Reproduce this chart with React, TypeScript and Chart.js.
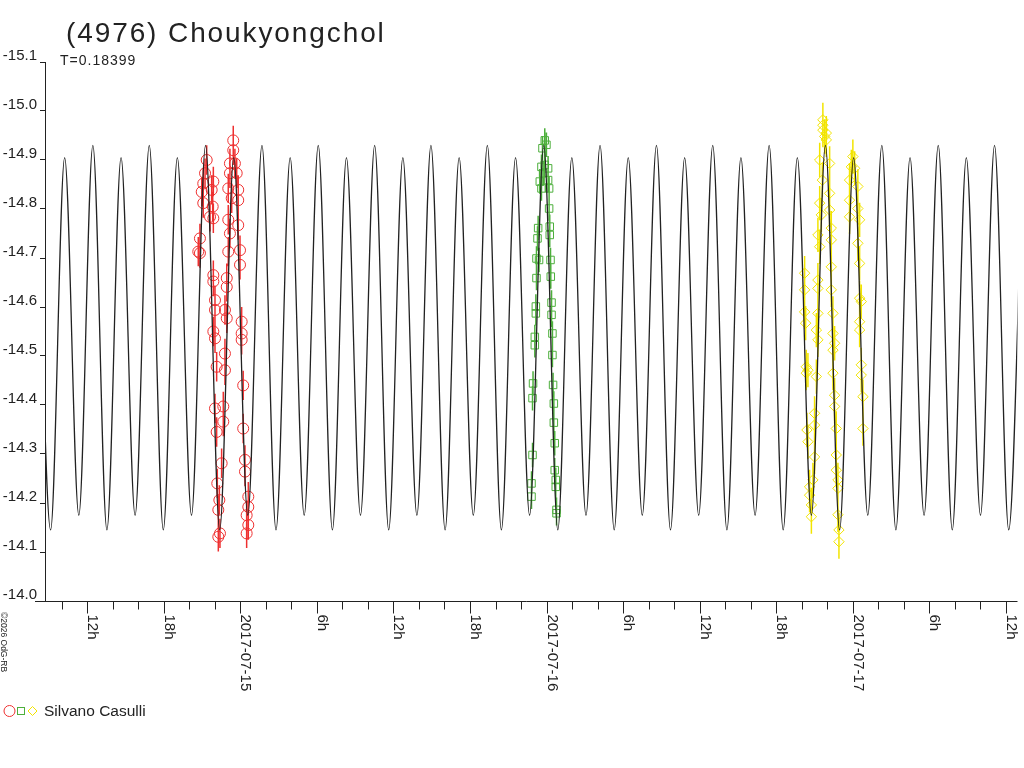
import { useEffect, useRef } from "react";
import { Chart, registerables } from "chart.js";

Chart.register(...registerables);

const FONT = '"Liberation Sans", Arial, sans-serif';
const INK = "#222222";

// hours relative to 2017-07-15 00:00, magnitudes (reduced)
// model lightcurve: successive maxima / minima
const curveHours = [
  -15.97, -14.86, -13.76, -12.65, -11.55, -10.45, -9.34, -8.24,
  -7.13, -6.03, -4.93, -3.82, -2.72, -1.61, -0.51, 0.59,
  1.7, 2.8, 3.91, 5.01, 6.11, 7.22, 8.32, 9.42,
  10.53, 11.63, 12.74, 13.84, 14.94, 16.05, 17.15, 18.26,
  19.36, 20.46, 21.57, 22.67, 23.78, 24.88, 25.98, 27.09,
  28.19, 29.3, 30.4, 31.5, 32.61, 33.71, 34.82, 35.92,
  37.02, 38.13, 39.23, 40.34, 41.44, 42.54, 43.65, 44.75,
  45.85, 46.96, 48.06, 49.17, 50.27, 51.37, 52.48, 53.58,
  54.69, 55.79, 56.89, 58.0, 59.1, 60.21, 61.31,
];
const curveMags = [
  -14.93, -14.145, -14.905, -14.175, -14.93, -14.145, -14.905, -14.175,
  -14.93, -14.145, -14.905, -14.175, -14.93, -14.145, -14.905, -14.175,
  -14.93, -14.145, -14.905, -14.175, -14.93, -14.145, -14.905, -14.175,
  -14.93, -14.145, -14.905, -14.175, -14.93, -14.145, -14.905, -14.175,
  -14.93, -14.145, -14.905, -14.175, -14.93, -14.145, -14.905, -14.175,
  -14.93, -14.145, -14.905, -14.175, -14.93, -14.145, -14.905, -14.175,
  -14.93, -14.145, -14.905, -14.175, -14.93, -14.145, -14.905, -14.175,
  -14.93, -14.145, -14.905, -14.175, -14.93, -14.145, -14.905, -14.175,
  -14.93, -14.145, -14.905, -14.175, -14.93, -14.145, -14.905,
];

// session 1 (red circles)
const redHours = [
  -2.63, -2.76, -2.9, -3.02, -2.11, -2.24, -2.9, -2.16, -2.37, -2.11, -3.16, -3.29, -3.16,
  -2.11, -2.11, -1.98, -1.98, -2.11, -1.98, -1.85, -1.98, -1.85, -1.46, -1.8, -1.64, -1.72, -1.59, -1.72,
  -0.55, -0.55, -0.81, -0.42, -0.81, -0.28, -0.16, -0.94, -0.67, -0.16, -0.94, -0.81, -0.16, -0.94, -0.02, -0.02,
  -1.06, -1.06, -1.2, -1.06, 0.11, 0.11, 0.11, -1.2, -1.2, 0.23, -1.33, -1.33, 0.23, 0.37, 0.37, 0.63, 0.63, 0.5, 0.63, 0.5,
];
const redMags = [
  -14.9, -14.873, -14.852, -14.835, -14.856, -14.839, -14.812, -14.805, -14.784, -14.781, -14.74, -14.713, -14.71,
  -14.665, -14.652, -14.614, -14.594, -14.55, -14.536, -14.478, -14.393, -14.345, -14.281, -14.24, -14.206, -14.186, -14.138, -14.131,
  -14.94, -14.92, -14.893, -14.893, -14.873, -14.873, -14.839, -14.842, -14.822, -14.818, -14.778, -14.75, -14.767, -14.713, -14.716, -14.686,
  -14.659, -14.641, -14.594, -14.577, -14.57, -14.546, -14.533, -14.505, -14.471, -14.44, -14.397, -14.366, -14.352, -14.288, -14.264, -14.213, -14.192, -14.175, -14.155, -14.138,
];

// session 2 (green squares)
const greenHours = [
  23.86, 23.99, 23.68, 23.6, 23.86, 24.12, 23.73, 24.12, 23.47, 23.6, 24.2,
  23.34, 23.29, 23.21, 23.41, 23.21, 23.16, 23.16, 23.08, 23.08, 22.94, 22.9, 22.9, 22.82, 22.82,
  24.2, 24.25, 24.25, 24.31, 24.33, 24.39, 24.39, 24.46, 24.46, 24.51, 24.57, 24.57, 24.64, 24.64, 24.72, 24.72, 24.78, 24.78,
];
const greenMags = [
  -14.94, -14.931, -14.924, -14.886, -14.89, -14.883, -14.873, -14.859, -14.856, -14.842, -14.842,
  -14.761, -14.74, -14.699, -14.696, -14.659, -14.601, -14.587, -14.539, -14.522, -14.444, -14.414, -14.298, -14.24, -14.213,
  -14.801, -14.764, -14.747, -14.696, -14.662, -14.609, -14.584, -14.546, -14.502, -14.441, -14.403, -14.364, -14.322, -14.267, -14.247, -14.233, -14.186, -14.179,
];

// session 3 (yellow diamonds)
const yellowHours = [
  44.22, 44.22, 44.22, 44.3, 44.35, 44.48, 44.35, 44.4, 44.48, 44.61, 44.61, 44.75, 44.75,
  44.87, 45.0, 45.0, 45.0, 45.14, 45.26, 45.14, 45.26, 45.26, 45.26, 45.4, 45.26, 45.53, 45.4, 45.61, 45.4,
  45.65, 45.65, 45.79, 45.92, 45.92, 45.65,
  46.18, 46.18, 46.18, 46.31, 46.31, 46.31, 46.31, 46.44, 46.44, 46.57, 46.44, 46.44, 46.57, 46.57, 46.7, 46.7, 46.7, 46.83, 46.83, 46.83, 46.91, 46.91,
  48.0, 47.88, 48.14, 47.74, 48.39, 47.74, 48.39, 47.74, 48.53, 48.39, 48.53,
  48.53, 48.66, 48.53, 48.53, 48.66, 48.66, 48.79, 48.79,
];
const yellowMags = [
  -14.669, -14.635, -14.59, -14.567, -14.478, -14.471, -14.465, -14.349, -14.325, -14.233, -14.216, -14.196, -14.172,
  -14.247, -14.294, -14.359, -14.383, -14.458, -14.533, -14.553, -14.587, -14.638, -14.655, -14.723, -14.747, -14.788, -14.812, -14.859, -14.9,
  -14.982, -14.961, -14.948, -14.941, -14.955, -14.971,
  -14.893, -14.832, -14.798, -14.761, -14.737, -14.682, -14.635, -14.587, -14.546, -14.526, -14.512, -14.465, -14.42, -14.397, -14.352, -14.298, -14.267, -14.247, -14.23, -14.176, -14.145, -14.121,
  -14.907, -14.886, -14.883, -14.859, -14.846, -14.818, -14.801, -14.784, -14.778, -14.73, -14.689,
  -14.618, -14.611, -14.57, -14.553, -14.482, -14.461, -14.417, -14.352,
];

const redErr = 0.03;
const greenErr = 0.025;
const yellowErr = 0.035;

const xTickHours = [
  -14, -12, -10, -8, -6, -4, -2, 0, 2, 4, 6, 8, 10, 12, 14, 16, 18, 20, 22, 24,
  26, 28, 30, 32, 34, 36, 38, 40, 42, 44, 46, 48, 50, 52, 54, 56, 58, 60,
];
const xLabelHours = [-12, -6, 0, 6, 12, 18, 24, 30, 36, 42, 48, 54, 60];
const xLabels = [
  "12h", "18h", "2017-07-15", "6h", "12h", "18h", "2017-07-16",
  "6h", "12h", "18h", "2017-07-17", "6h", "12h",
];
const yTicks = [-15.1, -15.0, -14.9, -14.8, -14.7, -14.6, -14.5, -14.4, -14.3, -14.2, -14.1, -14.0];

const RED = "#ee3030";
const GREEN = "#4daf3c";
const YELLOW = "#f2e400";

const toPoints = (xs: number[], ys: number[]) => xs.map((x, i) => ({ x, y: ys[i] }));

const overlay = {
  id: "overlay",
  beforeDatasetsDraw(chart: any) {
    const { ctx, chartArea: a } = chart;
    const xs = chart.scales.x;
    const ys = chart.scales.y;
    ctx.save();
    ctx.beginPath();
    ctx.rect(a.left, a.top, a.right - a.left, a.bottom - a.top);
    ctx.clip();
    chart.data.datasets.forEach((ds: any) => {
      if (!ds.errorBar) return;
      ctx.strokeStyle = ds.borderColor;
      ctx.lineWidth = 1.5;
      ctx.beginPath();
      ds.data.forEach((p: any) => {
        const px = xs.getPixelForValue(p.x);
        ctx.moveTo(px, ys.getPixelForValue(p.y - ds.errorBar));
        ctx.lineTo(px, ys.getPixelForValue(p.y + ds.errorBar));
      });
      ctx.stroke();
    });
    ctx.restore();
  },
  afterDraw(chart: any) {
    const { ctx, chartArea: a } = chart;
    const xs = chart.scales.x;
    ctx.save();
    ctx.fillStyle = INK;
    ctx.strokeStyle = INK;
    ctx.lineWidth = 1;

    // x axis
    const base = Math.round(a.bottom) + 0.5;
    ctx.beginPath();
    ctx.moveTo(a.left - 10, base);
    ctx.lineTo(a.right, base);
    xTickHours.forEach((h) => {
      const px = Math.round(xs.getPixelForValue(h)) + 0.5;
      const len = h % 6 === 0 ? 12 : 8;
      ctx.moveTo(px, base);
      ctx.lineTo(px, base + len);
    });
    ctx.stroke();

    ctx.font = `15px ${FONT}`;
    ctx.textAlign = "left";
    ctx.textBaseline = "alphabetic";
    xLabelHours.forEach((h, i) => {
      const px = Math.round(xs.getPixelForValue(h));
      ctx.save();
      ctx.translate(px + 1, base + 13);
      ctx.rotate(Math.PI / 2);
      ctx.fillText(xLabels[i], 0, 0);
      ctx.restore();
    });

    // title
    ctx.font = `28px ${FONT}`;
    (ctx as any).letterSpacing = "1.9px";
    ctx.fillText("(4976) Choukyongchol", 66, 42);
    ctx.font = `14px ${FONT}`;
    (ctx as any).letterSpacing = "1px";
    ctx.fillText("T=0.18399", 60, 65);
    (ctx as any).letterSpacing = "0px";

    // copyright
    ctx.save();
    ctx.translate(1, 612);
    ctx.rotate(Math.PI / 2);
    ctx.font = `8.5px ${FONT}`;
    ctx.fillText("\u00a92026 OdG-RB", 0, 0);
    ctx.restore();

    // legend
    ctx.lineWidth = 1;
    ctx.strokeStyle = RED;
    ctx.beginPath();
    ctx.arc(9.5, 711, 5.5, 0, Math.PI * 2);
    ctx.stroke();
    ctx.strokeStyle = GREEN;
    ctx.strokeRect(17.5, 707.5, 7, 7);
    ctx.strokeStyle = YELLOW;
    ctx.beginPath();
    ctx.moveTo(28, 711);
    ctx.lineTo(32.5, 706.5);
    ctx.lineTo(37, 711);
    ctx.lineTo(32.5, 715.5);
    ctx.closePath();
    ctx.stroke();
    ctx.fillStyle = INK;
    ctx.font = `15.5px ${FONT}`;
    ctx.fillText("Silvano Casulli", 44, 716);
    ctx.restore();
  },
};

export default function App() {
  const canvasRef = useRef<HTMLCanvasElement>(null);
  const chartRef = useRef<Chart | null>(null);

  useEffect(() => {
    if (!canvasRef.current) return;
    if (chartRef.current) chartRef.current.destroy();

    const config: any = {
      type: "scatter",
      data: {
        datasets: [
          {
            label: "model",
            data: toPoints(curveHours, curveMags),
            showLine: true,
            borderColor: INK,
            borderWidth: 1.3,
            pointRadius: 0,
            cubicInterpolationMode: "monotone",
            fill: false,
          },
          {
            label: "Silvano Casulli 1",
            data: toPoints(redHours, redMags),
            pointStyle: "circle",
            pointRadius: 5.5,
            borderColor: RED,
            backgroundColor: "rgba(0,0,0,0)",
            borderWidth: 1,
            errorBar: redErr,
          },
          {
            label: "Silvano Casulli 2",
            data: toPoints(greenHours, greenMags),
            pointStyle: "rect",
            pointRadius: 5.3,
            borderColor: GREEN,
            backgroundColor: "rgba(0,0,0,0)",
            borderWidth: 1,
            errorBar: greenErr,
          },
          {
            label: "Silvano Casulli 3",
            data: toPoints(yellowHours, yellowMags),
            pointStyle: "rectRot",
            pointRadius: 5.2,
            borderColor: YELLOW,
            backgroundColor: "rgba(0,0,0,0)",
            borderWidth: 1,
            errorBar: yellowErr,
          },
        ],
      },
      options: {
        responsive: true,
        maintainAspectRatio: false,
        animation: false,
        layout: { padding: { top: 62, right: 6, bottom: 167, left: 0 } },
        plugins: { legend: { display: false }, tooltip: { enabled: false }, title: { display: false } },
        scales: {
          x: { type: "linear", display: false, min: -15.3, max: 60.9 },
          y: {
            type: "linear",
            min: -15.1,
            max: -14.0,
            reverse: true,
            afterFit: (s: any) => {
              s.width = 45;
            },
            afterBuildTicks: (s: any) => {
              s.ticks = yTicks.map((v) => ({ value: v }));
            },
            ticks: {
              autoSkip: false,
              callback: (v: any) => Number(v).toFixed(1),
              font: { family: FONT, size: 15 },
              color: INK,
              padding: 3,
              labelOffset: -6,
            },
            grid: { drawOnChartArea: false, drawTicks: true, tickLength: 5, color: INK },
            border: { display: true, color: INK, width: 1 },
          },
        },
      },
      plugins: [overlay],
    };

    chartRef.current = new Chart(canvasRef.current, config);
    return () => {
      if (chartRef.current) {
        chartRef.current.destroy();
        chartRef.current = null;
      }
    };
  }, []);

  return (
    <div style={{ position: "absolute", left: 0, top: 0, width: 1024, height: 768, background: "#fff" }}>
      <canvas ref={canvasRef} />
    </div>
  );
}
